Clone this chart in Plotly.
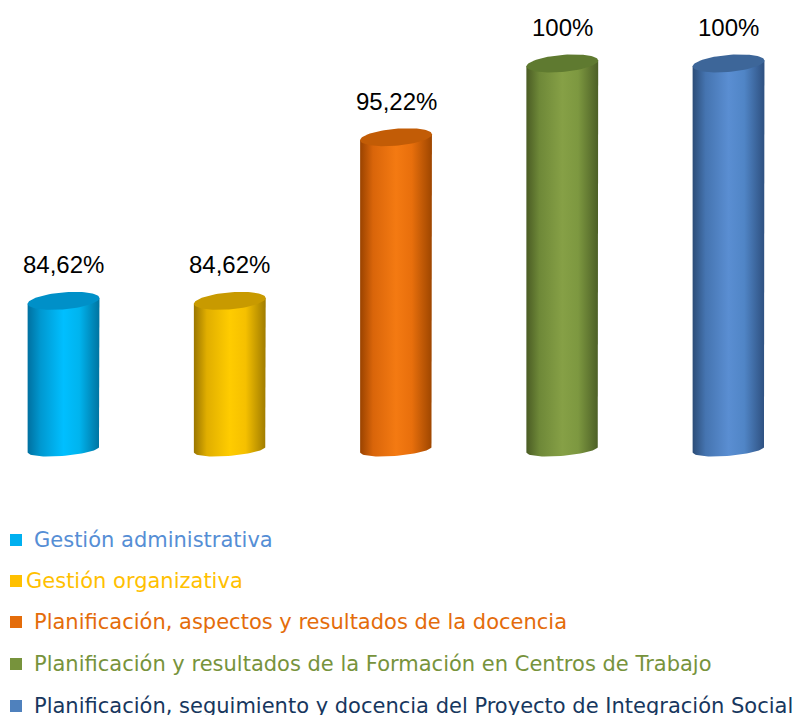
import numpy as np
import plotly.graph_objects as go

# ---------------- data ----------------
categories = [
    "Gestión administrativa",
    "Gestión organizativa",
    "Planificación, aspectos y resultados de la docencia",
    "Planificación y resultados de la Formación en Centros de Trabajo",
    "Planificación, seguimiento y docencia del Proyecto de Integración Social",
]
values = [84.62, 84.62, 95.22, 100, 100]
value_labels = ["84,62%", "84,62%", "95,22%", "100%", "100%"]
base_value = 75

# ---------------- style ----------------
OFF = 8                  # page body margin
W, H = 806 - OFF, 715 - OFF
M_TOP, M_BOT = 0, 250
Y_RANGE = [73.99, 103.59]
X_RANGE = [-0.334, 4.466]
HALF_W = 0.216          # cylinder half width (x units)
TOP_B = 0.55            # top ellipse half-height (y units)
BOT_B = 0.42            # bottom ellipse half-height (y units)
TILT = 0.19             # ellipse tilt (y units)

body_scales = [
    ["#0070A0", "#0098D0", "#00BFFF", "#00B4EE", "#0073A0"],
    ["#9A7600", "#E0AE00", "#FFCC00", "#F5C000", "#A07C00"],
    ["#9A4300", "#D9650A", "#F47A12", "#E86F0C", "#9E4600"],
    ["#4A5C24", "#6E8838", "#86A046", "#7D9840", "#4C5F26"],
    ["#2C4D78", "#4574B0", "#5A8ED2", "#5085C6", "#2E5080"],
]
top_colors = ["#0090C8", "#C89A00", "#C25C06", "#5F7A30", "#3D6699"]
square_colors = ["#00B0F0", "#FFC000", "#E46C0A", "#77933C", "#4F81BD"]
text_colors = ["#558ED5", "#FFC000", "#E46C0A", "#77933C", "#17375E"]

fig = go.Figure()

theta_front = np.linspace(0, np.pi, 40)
theta_full = np.linspace(0, 2 * np.pi, 80)

for i, v in enumerate(values):
    xc = i
    xs = [xc - HALF_W, xc - HALF_W, xc + HALF_W, xc + HALF_W]
    ys = [base_value - TILT, v - TILT, v + TILT, base_value + TILT]
    xs += list(xc + HALF_W * np.cos(theta_front))
    ys += list(base_value - BOT_B * np.sin(theta_front) + TILT * np.cos(theta_front))
    stops = [0, 0.18, 0.5, 0.72, 1]
    fig.add_trace(go.Scatter(
        x=xs, y=ys, mode="lines", fill="toself",
        line=dict(width=0, color="rgba(0,0,0,0)"),
        fillgradient=dict(type="horizontal",
                          colorscale=[[s, c] for s, c in zip(stops, body_scales[i])]),
        hoverinfo="skip", showlegend=False,
    ))
    fig.add_trace(go.Scatter(
        x=list(xc + HALF_W * np.cos(theta_full)),
        y=list(v + TOP_B * np.sin(theta_full) + TILT * np.cos(theta_full)),
        mode="lines", fill="toself",
        line=dict(width=0, color="rgba(0,0,0,0)"),
        fillcolor=top_colors[i],
        hoverinfo="skip", showlegend=False,
    ))
    fig.add_annotation(
        x=xc, y=v, xref="x", yref="y", text=value_labels[i],
        showarrow=False, yanchor="middle", yshift=36,
        font=dict(family="Liberation Sans, Arial", size=24, color="#000000"),
    )

# ---------------- legend (text + squares) ----------------
plot_h = H - M_TOP - M_BOT


def px2paper_x(px):
    return (px - OFF) / W


def py2paper(py):
    return (H - M_BOT - (py - OFF)) / plot_h


leg_y = [540, 581, 622, 664, 706]
leg_text_x = [32, 24, 32, 32, 32]
for i, name in enumerate(categories):
    yc = leg_y[i]
    fig.add_shape(type="rect", xref="paper", yref="paper",
                  x0=px2paper_x(10), x1=px2paper_x(22),
                  y0=py2paper(yc + 6), y1=py2paper(yc - 6),
                  fillcolor=square_colors[i], line=dict(width=0))
    fig.add_annotation(
        x=px2paper_x(leg_text_x[i]), y=py2paper(yc), xref="paper", yref="paper",
        text=name, showarrow=False, xanchor="left", yanchor="middle",
        font=dict(family="DejaVu Sans, Verdana", size=21, color=text_colors[i]),
    )

fig.update_layout(
    width=W, height=H,
    margin=dict(l=0, r=0, t=M_TOP, b=M_BOT),
    plot_bgcolor="white", paper_bgcolor="white",
    xaxis=dict(range=X_RANGE, visible=False, fixedrange=True),
    yaxis=dict(range=Y_RANGE, visible=False, fixedrange=True),
    showlegend=False,
)

fig.write_html("out.html")
